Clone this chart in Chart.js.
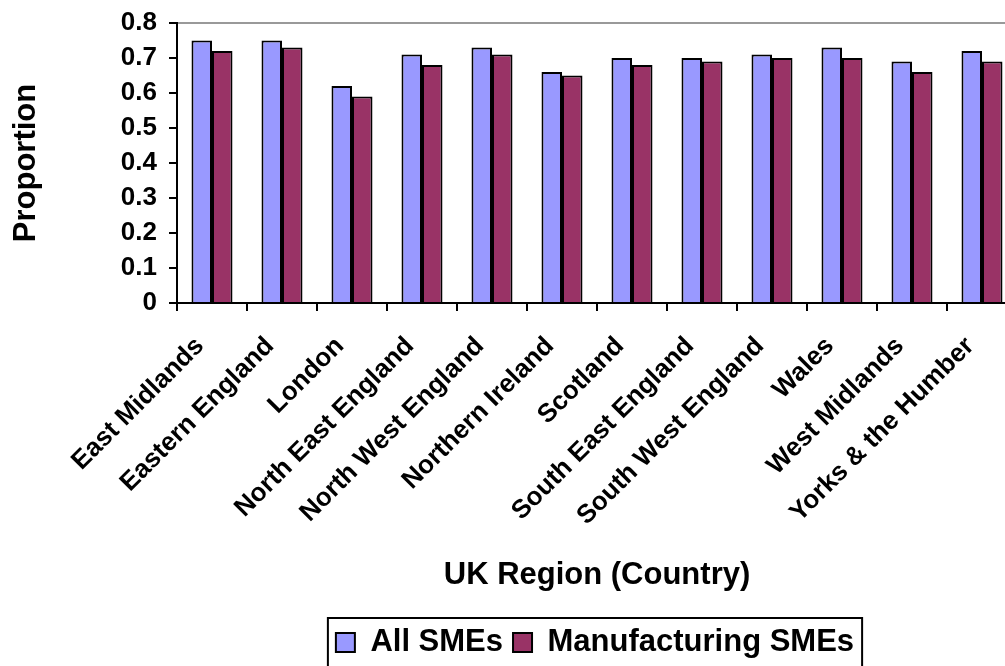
<!DOCTYPE html>
<html>
<head>
<meta charset="utf-8">
<script src="https://cdn.jsdelivr.net/npm/chart.js@4/dist/chart.umd.min.js"></script>
<style>
  html, body { margin: 0; padding: 0; background: #fff; }
  #frame { width: 1005px; height: 666px; overflow: hidden; position: relative; }
  #wrap { width: 1190px; height: 680px; position: absolute; left: 0; top: 0; }
</style>
</head>
<body>
<div id="frame"><div id="wrap"><canvas id="c" width="1190" height="680"></canvas></div></div>
<script>
const regions = ["East Midlands", "Eastern England", "London", "North East England",
  "North West England", "Northern Ireland", "Scotland", "South East England",
  "South West England", "Wales", "West Midlands", "Yorks & the Humber"];
const allSMEs = [0.75, 0.75, 0.62, 0.71, 0.73, 0.66, 0.70, 0.70, 0.71, 0.73, 0.69, 0.72];
const manufacturingSMEs = [0.72, 0.73, 0.59, 0.68, 0.71, 0.65, 0.68, 0.69, 0.70, 0.70, 0.66, 0.69];
const yTicks = [0, 0.1, 0.2, 0.3, 0.4, 0.5, 0.6, 0.7, 0.8];
const seriesNames = ["All SMEs", "Manufacturing SMEs"];
const xTitle = "UK Region (Country)";
const yTitle = "Proportion";

const FONT = "'Liberation Sans', Arial, Helvetica, sans-serif";

const legendBorder = {
  id: 'legendBorder',
  afterDraw(chart) {
    const lg = chart.legend;
    if (!lg || !lg.legendHitBoxes || !lg.legendHitBoxes.length) return;
    const hb = lg.legendHitBoxes;
    let minX = Infinity, maxX = -Infinity;
    hb.forEach(b => { minX = Math.min(minX, b.left); maxX = Math.max(maxX, b.left + b.width); });
    const ctx = chart.ctx;
    ctx.save();
    ctx.strokeStyle = '#000';
    ctx.lineWidth = 2;
    ctx.strokeRect(minX - 8, lg.top + 1, (maxX - minX) + 16, lg.height + 20);
    ctx.restore();
  }
};

new Chart(document.getElementById('c'), {
  type: 'bar',
  data: {
    labels: regions,
    datasets: [
      { label: seriesNames[0], data: allSMEs, backgroundColor: '#9999FF', borderColor: '#000', borderWidth: 2,
        categoryPercentage: 0.586, barPercentage: 1.0 },
      { label: seriesNames[1], data: manufacturingSMEs, backgroundColor: '#993366', borderColor: '#000', borderWidth: 2,
        categoryPercentage: 0.586, barPercentage: 1.0 }
    ]
  },
  options: {
    responsive: false,
    animation: false,
    layout: { padding: { top: 23, left: 0, right: 0, bottom: 12 } },
    plugins: {
      tooltip: { enabled: false },
      legend: {
        position: 'bottom',
        labels: {
          color: '#000',
          font: { family: FONT, size: 31, weight: 'bold' },
          boxWidth: 19, boxHeight: 19, padding: 10
        }
      }
    },
    scales: {
      x: {
        type: 'category',
        grid: { offset: true, drawOnChartArea: false, tickLength: 8, tickColor: '#000', lineWidth: 2, color: '#000' },
        border: { display: true, color: '#000', width: 2 },
        ticks: {
          color: '#000', font: { family: FONT, size: 26, weight: 'bold' },
          minRotation: 45, maxRotation: 45, autoSkip: false, padding: 20, labelOffset: -12
        },
        title: {
          display: true, text: xTitle, color: '#000',
          font: { family: FONT, size: 31, weight: 'bold' },
          padding: { top: 0, bottom: 23 }
        },
        afterFit: s => { s.height = 314; }
      },
      y: {
        min: 0, max: 0.8,
        afterBuildTicks: s => { s.ticks = yTicks.map(v => ({ value: v })); },
        grid: {
          color: c => (c.tick && Math.abs(c.tick.value - 0.8) < 1e-9) ? '#999999' : 'rgba(0,0,0,0)',
          tickColor: '#000', lineWidth: 2, tickLength: 8
        },
        border: { display: true, color: '#000', width: 2 },
        ticks: {
          color: '#000', font: { family: FONT, size: 26, weight: 'bold' }, padding: 12,
          callback: v => (v === 0 ? '0' : Number(v).toFixed(1))
        },
        title: {
          display: true, text: yTitle, color: '#000',
          font: { family: FONT, size: 31, weight: 'bold' },
          padding: { top: 8, bottom: 0 }
        },
        afterFit: s => { s.width = 177; s.paddingTop = 0; s.paddingBottom = 0; }
      },
      y2: {
        position: 'right',
        display: true,
        grid: { display: false, drawOnChartArea: false },
        border: { display: false },
        ticks: { display: false },
        afterFit: s => { s.width = 173; s.paddingTop = 0; s.paddingBottom = 0; }
      }
    }
  },
  plugins: [legendBorder]
});
</script>
</body>
</html>
